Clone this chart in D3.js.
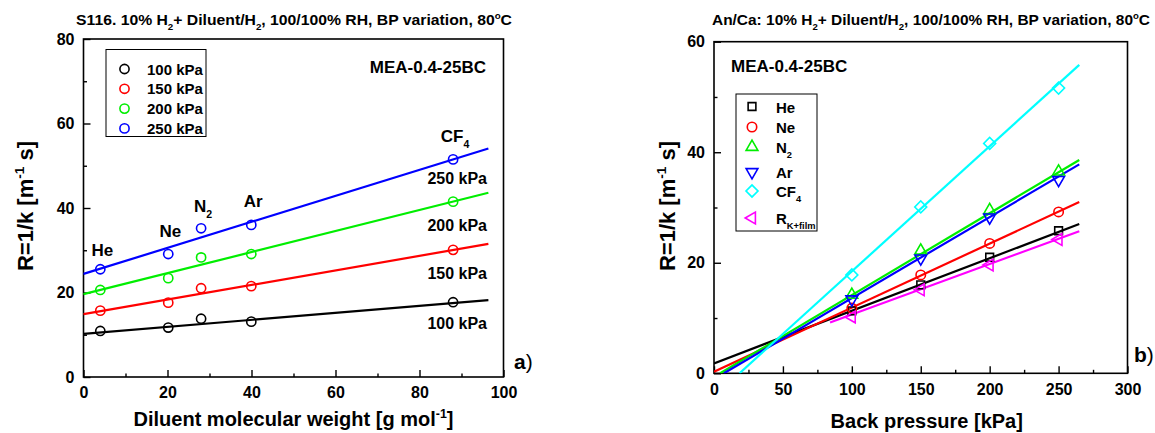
<!DOCTYPE html>
<html>
<head>
<meta charset="utf-8">
<script src="https://cdn.jsdelivr.net/npm/d3@7"></script>
<style>
  body { margin: 0; background: #fff; }
  svg { font-family: 'Liberation Sans', Arial, sans-serif; font-weight: bold; }
</style>
</head>
<body>
<svg id="chart" width="1155" height="433"></svg>
<script>
// ---- panel a data: R vs diluent molecular weight ----
var gasNames = ['He', 'Ne', 'N2', 'Ar', 'CF4'];
var molWeight = [4, 20.18, 28, 39.95, 88];
var pressureLabels = ['100 kPa', '150 kPa', '200 kPa', '250 kPa'];
var r100 = [10.9, 11.7, 13.8, 13.1, 17.7];
var r150 = [15.7, 17.6, 21.0, 21.5, 30.1];
var r200 = [20.6, 23.4, 28.3, 29.1, 41.5];
var r250 = [25.5, 29.1, 35.2, 36.0, 51.5];
// fitted lines, value at x = 0 and x = 96.4
var fitXLeft = [0, 96.4];
var fit100 = [10.2, 18.2];
var fit150 = [14.9, 31.5];
var fit200 = [19.6, 43.6];
var fit250 = [24.4, 54.1];

// ---- panel b data: R vs back pressure ----
var backPressure = [100, 150, 200, 250];
var bpHe = [11.3, 16.0, 21.0, 25.8];
var bpNe = [11.8, 17.8, 23.5, 29.2];
var bpN2 = [14.2, 22.2, 29.5, 36.5];
var bpAr = [13.4, 20.8, 28.2, 35.0];
var bpCF4 = [17.8, 30.1, 41.6, 51.6];
var bpRK = [10.2, 15.1, 19.6, 24.2];
// fitted lines, [x, y] end points
var fitHe = [[0, 1.8], [265, 27.0]];
var fitNe = [[0, 0.3], [265, 31.0]];
var fitN2 = [[4.5, 0], [265, 38.6]];
var fitAr = [[7.2, 0], [265, 37.8]];
var fitCF4 = [[18.5, 0], [265, 55.8]];
var fitRK = [[84.2, 9.2], [265, 25.7]];

var svg = d3.select('#chart');

// write text made of parts, parts may be sub or sup
function richText(g, x, y, parts, size, anchor, weight) {
    var t = g.append('text')
        .attr('x', x).attr('y', y)
        .attr('font-size', size)
        .attr('font-weight', weight || 'bold')
        .attr('text-anchor', anchor || 'start');
    var shift = 0;
    parts.forEach(function(p) {
        var s = typeof p === 'string' ? {t: p} : p;
        var target = 0;
        if (s.sub) target = size * 0.33;
        if (s.sup) target = -size * 0.4;
        var ts = t.append('tspan').text(s.t)
            .attr('dy', target - shift);
        if (s.sub || s.sup) ts.attr('font-size', size * 0.62);
        shift = target;
    });
    return t;
}

function drawAxes(g, x, y, w, h, xTicks, xMinor, yTicks, yMinor) {
    // frame
    g.append('rect').attr('x', 0).attr('y', 0).attr('width', w).attr('height', h)
        .attr('fill', 'none').attr('stroke', '#000').attr('stroke-width', 1.6);

    var xAxis = d3.axisBottom(x).tickValues(xTicks).tickSizeInner(-7).tickSizeOuter(0).tickPadding(10);
    var xAxisMinor = d3.axisBottom(x).tickValues(xMinor).tickSizeInner(-3.5).tickSizeOuter(0).tickFormat('');
    var yAxis = d3.axisLeft(y).tickValues(yTicks).tickSizeInner(-7).tickSizeOuter(0).tickPadding(9);
    var yAxisMinor = d3.axisLeft(y).tickValues(yMinor).tickSizeInner(-3.5).tickSizeOuter(0).tickFormat('');

    [[xAxis, 'x'], [xAxisMinor, 'x'], [yAxis, 'y'], [yAxisMinor, 'y']].forEach(function(a) {
        var ax = g.append('g')
            .attr('transform', a[1] === 'x' ? 'translate(0,' + h + ')' : null)
            .call(a[0]);
        ax.select('.domain').remove();
        ax.selectAll('line').attr('stroke', '#000').attr('stroke-width', 1.4);
        ax.selectAll('text').attr('font-size', 16).attr('font-weight', 'bold')
            .attr('font-family', "'Liberation Sans', Arial, sans-serif").attr('fill', '#000');
    });
}

function marker(type, size) {
    var sym = {
        circle: d3.symbolCircle, square: d3.symbolSquare,
        triangle: d3.symbolTriangle, down: d3.symbolTriangle,
        left: d3.symbolTriangle, diamond: d3.symbolSquare
    }[type];
    return d3.symbol().type(sym).size(size)();
}
var markerRot = {circle: 0, square: 0, triangle: 0, down: 180, left: -90, diamond: 45};

// ================= panel a =================
(function() {
    var left = 83.5, top = 39, w = 420, h = 338;
    var g = svg.append('g').attr('transform', 'translate(' + left + ',' + top + ')');
    var x = d3.scaleLinear().domain([0, 100]).range([0, w]);
    var y = d3.scaleLinear().domain([0, 80]).range([h, 0]);

    drawAxes(g, x, y, w, h, [0, 20, 40, 60, 80, 100], [10, 30, 50, 70, 90],
        [0, 20, 40, 60, 80], [10, 30, 50, 70]);

    var series = [
        {vals: r100, fit: fit100, color: '#000000'},
        {vals: r150, fit: fit150, color: '#ff0000'},
        {vals: r200, fit: fit200, color: '#00ee00'},
        {vals: r250, fit: fit250, color: '#0000ff'}
    ];
    var line = d3.line().x(function(d) { return x(d[0]); }).y(function(d) { return y(d[1]); });

    series.forEach(function(s) {
        g.append('path')
            .attr('d', line([[fitXLeft[0], s.fit[0]], [fitXLeft[1], s.fit[1]]]))
            .attr('fill', 'none').attr('stroke', s.color).attr('stroke-width', 2.2);
        g.selectAll(null).data(s.vals).enter().append('circle')
            .attr('cx', function(d, i) { return x(molWeight[i]); })
            .attr('cy', function(d) { return y(d); })
            .attr('r', 4.6)
            .attr('fill', 'none').attr('stroke', s.color).attr('stroke-width', 1.6);
    });

    // legend
    var lg = svg.append('g');
    lg.append('rect').attr('x', 106).attr('y', 49.5).attr('width', 100).attr('height', 87)
        .attr('fill', '#fff').attr('stroke', '#000').attr('stroke-width', 1);
    series.forEach(function(s, i) {
        var cy = 69 + i * 19.8;
        lg.append('circle').attr('cx', 124.5).attr('cy', cy).attr('r', 4.6)
            .attr('fill', 'none').attr('stroke', s.color).attr('stroke-width', 1.6);
        lg.append('text').attr('x', 147).attr('y', cy + 5.5)
            .attr('font-size', 15).text(pressureLabels[i]);
    });

    richText(svg, 486, 73, ['MEA-0.4-25BC'], 17, 'end');

    // gas labels over the 250 kPa points
    var gasParts = [['He'], ['Ne'], ['N', {t: '2', sub: true}], ['Ar'], ['CF', {t: '4', sub: true}]];
    var gasDy = [-13, -17, -16, -18, -17];
    gasParts.forEach(function(p, i) {
        richText(svg, left + x(molWeight[i]) + 2, top + y(r250[i]) + gasDy[i], p, 17, 'middle');
    });

    // pressure labels under each fit line
    var plY = [329, 279, 231, 184];
    pressureLabels.forEach(function(t, i) {
        richText(svg, 487, plY[i], [t], 16, 'end');
    });

    // panel letter
    var a = svg.append('text').attr('x', 514).attr('y', 369).attr('font-size', 21);
    a.append('tspan').text('a');
    a.append('tspan').text(')').attr('font-weight', 'normal');

    // titles
    richText(svg, 76, 25, ['S116. 10% H', {t: '2', sub: true}, '+ Diluent/H', {t: '2', sub: true},
        ', 100/100% RH, BP variation, 80', {t: 'o', sup: true}, 'C'], 15, 'start')
        .attr('textLength', 436).attr('lengthAdjust', 'spacingAndGlyphs');
    richText(svg, left + w / 2, 426, ['Diluent molecular weight [g mol', {t: '-1', sup: true}, ']'], 20, 'middle');
    var yl = richText(svg, 0, 0, ['R=1/k [m', {t: '-1', sup: true}, ' s]'], 22, 'middle');
    yl.attr('transform', 'translate(33,206) rotate(-90)');
})();

// ================= panel b =================
(function() {
    var left = 714, top = 41.7, w = 413.5, h = 331.6;
    var g = svg.append('g').attr('transform', 'translate(' + left + ',' + top + ')');
    var x = d3.scaleLinear().domain([0, 300]).range([0, w]);
    var y = d3.scaleLinear().domain([0, 60]).range([h, 0]);

    drawAxes(g, x, y, w, h, [0, 50, 100, 150, 200, 250, 300], [25, 75, 125, 175, 225, 275],
        [0, 20, 40, 60], [10, 30, 50]);

    var series = [
        {name: ['He'], vals: bpHe, fit: fitHe, color: '#000000', mk: 'square', size: 60},
        {name: ['Ne'], vals: bpNe, fit: fitNe, color: '#ff0000', mk: 'circle', size: 70},
        {name: ['N', {t: '2', sub: true}], vals: bpN2, fit: fitN2, color: '#00ee00', mk: 'triangle', size: 60},
        {name: ['Ar'], vals: bpAr, fit: fitAr, color: '#0000ff', mk: 'down', size: 60},
        {name: ['CF', {t: '4', sub: true}], vals: bpCF4, fit: fitCF4, color: '#00ffff', mk: 'diamond', size: 72},
        {name: ['R', {t: 'K+film', sub: true}], vals: bpRK, fit: fitRK, color: '#ff00ff', mk: 'left', size: 60}
    ];
    var line = d3.line().x(function(d) { return x(d[0]); }).y(function(d) { return y(d[1]); });

    g.append('clipPath').attr('id', 'clipb').append('rect').attr('width', w).attr('height', h);
    var plot = g.append('g').attr('clip-path', 'url(#clipb)');

    // fit lines first, markers on top
    series.forEach(function(s) {
        plot.append('path').attr('d', line(s.fit))
            .attr('fill', 'none').attr('stroke', s.color).attr('stroke-width', 2.2);
    });
    series.forEach(function(s) {
        plot.selectAll(null).data(s.vals).enter().append('path')
            .attr('d', marker(s.mk, s.size))
            .attr('transform', function(d, i) {
                return 'translate(' + x(backPressure[i]) + ',' + y(d) + ') rotate(' + markerRot[s.mk] + ')';
            })
            .attr('fill', 'none').attr('stroke', s.color).attr('stroke-width', 1.6);
    });

    // legend
    var lg = svg.append('g');
    lg.append('rect').attr('x', 736).attr('y', 94).attr('width', 81).attr('height', 137)
        .attr('fill', '#fff').attr('stroke', '#000').attr('stroke-width', 1);
    var rowY = [112.5, 133, 153, 178, 197, 224];
    series.forEach(function(s, i) {
        lg.append('path').attr('d', marker(s.mk, s.size))
            .attr('transform', 'translate(752,' + (rowY[i] - 6) + ') rotate(' + markerRot[s.mk] + ')')
            .attr('fill', 'none').attr('stroke', s.color).attr('stroke-width', 1.6);
        richText(lg, 776, rowY[i], s.name, 15, 'start');
    });

    richText(svg, 731, 72, ['MEA-0.4-25BC'], 17, 'start');

    var b = svg.append('text').attr('x', 1134).attr('y', 362).attr('font-size', 21);
    b.append('tspan').text('b');
    b.append('tspan').text(')').attr('font-weight', 'normal');

    richText(svg, 712, 25, ['An/Ca: 10% H', {t: '2', sub: true}, '+ Diluent/H', {t: '2', sub: true},
        ', 100/100% RH, BP variation, 80', {t: 'o', sup: true}, 'C'], 15, 'start')
        .attr('textLength', 438).attr('lengthAdjust', 'spacingAndGlyphs');
    richText(svg, left + w / 2 + 6, 428, ['Back pressure [kPa]'], 20, 'middle');
    var yl = richText(svg, 0, 0, ['R=1/k [m', {t: '-1', sup: true}, ' s]'], 22, 'middle');
    yl.attr('transform', 'translate(675,206) rotate(-90)');
})();
</script>
</body>
</html>
